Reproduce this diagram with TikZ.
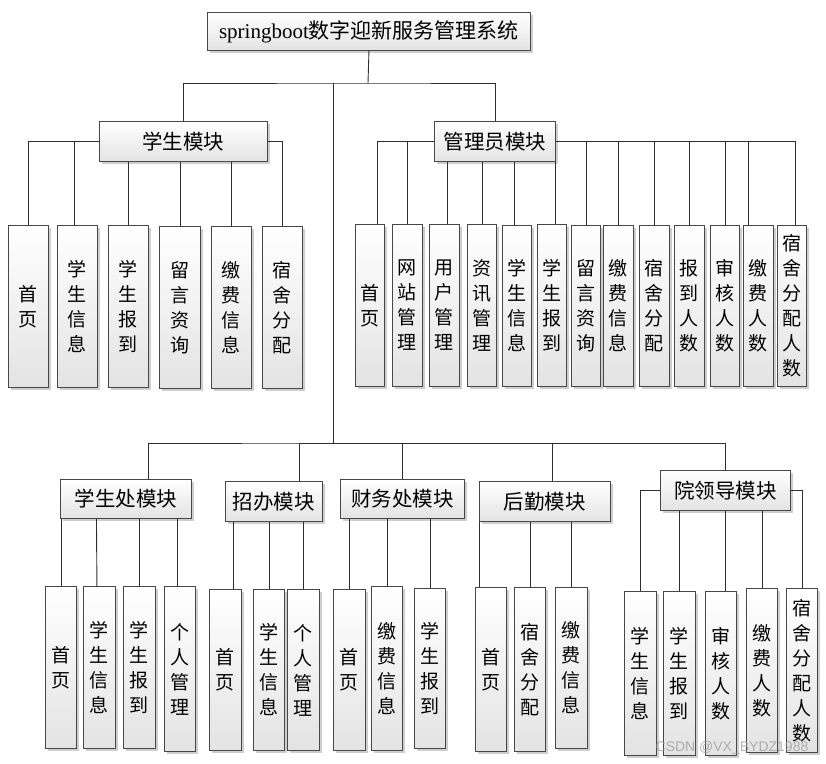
\documentclass[tikz,border=0pt]{standalone}
\usepackage{fontspec}
\setmainfont{Liberation Serif}
\newfontfamily\cjk{Noto Sans CJK SC}
\newfontfamily\wmfont{Liberation Sans}
\usetikzlibrary{shadows}
\tikzset{
  box/.style={draw=black!72, line width=0.9pt, top color=white, bottom color=black!11,
    drop shadow={shadow xshift=3pt, shadow yshift=-3pt, fill=black!35, opacity=0.55},
    inner sep=0pt, anchor=north west},
  leaf/.style={box, font=\cjk\fontsize{19}{25}\selectfont, align=center},
  mod/.style={box, font=\cjk\fontsize{20.5}{24}\selectfont},
  ln/.style={draw=black!82, line width=0.9pt},
}
\newcommand\bx[7]{\node[#1, minimum width={#5-#3}, minimum height={#6-#4}] (#2) at (#3,#4) {#7};}
\begin{document}
\begin{tikzpicture}[x=1pt,y=-1pt]
\useasboundingbox (0,0) rectangle (826,763);
% connectors drawn first
\coordinate (j0) at (333,83);
\coordinate (j1) at (368,83);
\coordinate (j2) at (333,443);
% root
\bx{box,font=\fontsize{21}{24}\selectfont}{root}{207}{12}{530}{50}{springboot{\cjk 数字迎新服务管理系统}}
% modules
\bx{mod}{xs}{99}{121}{267}{161}{学生模块}
\bx{mod}{ad}{434}{121}{555}{161}{管理员模块}
\bx{mod}{xc}{60}{479}{191}{518}{学生处模块}
\bx{mod}{zb}{225}{481}{322}{521}{招办模块}
\bx{mod}{cw}{340}{479}{464}{518}{财务处模块}
\bx{mod}{hq}{479}{481}{610}{521}{后勤模块}
\bx{mod}{yl}{660}{470}{790}{510}{院领导模块}
% student module leaves
\bx{leaf}{xs1}{8}{225}{48}{387}{首\\页}
\bx{leaf}{xs2}{57}{225}{97}{387}{学\\生\\信\\息}
\bx{leaf}{xs3}{108}{225}{148}{387}{学\\生\\报\\到}
\bx{leaf}{xs4}{159}{226}{200}{388}{留\\言\\资\\询}
\bx{leaf}{xs5}{211}{226}{251}{388}{缴\\费\\信\\息}
\bx{leaf}{xs6}{262}{226}{302}{388}{宿\\舍\\分\\配}
% admin leaves
\bx{leaf}{ad1}{355}{224}{384}{386}{首\\页}
\bx{leaf}{ad2}{392}{224}{422}{386}{网\\站\\管\\理}
\bx{leaf}{ad3}{429}{224}{459}{386}{用\\户\\管\\理}
\bx{leaf}{ad4}{467}{224}{496}{386}{资\\讯\\管\\理}
\bx{leaf}{ad5}{502}{225}{531}{386}{学\\生\\信\\息}
\bx{leaf}{ad6}{537}{224}{566}{386}{学\\生\\报\\到}
\bx{leaf}{ad7}{571}{225}{600}{386}{留\\言\\资\\询}
\bx{leaf}{ad8}{603}{225}{633}{386}{缴\\费\\信\\息}
\bx{leaf}{ad9}{639}{225}{669}{386}{宿\\舍\\分\\配}
\bx{leaf}{ad10}{674}{225}{704}{386}{报\\到\\人\\数}
\bx{leaf}{ad11}{710}{225}{739}{386}{审\\核\\人\\数}
\bx{leaf}{ad12}{743}{225}{773}{386}{缴\\费\\人\\数}
\bx{leaf}{ad13}{777}{225}{806}{386}{宿\\舍\\分\\配\\人\\数}
% student office leaves
\bx{leaf}{xc1}{45}{586}{76}{748}{首\\页}
\bx{leaf}{xc2}{83}{586}{115}{748}{学\\生\\信\\息}
\bx{leaf}{xc3}{123}{586}{155}{748}{学\\生\\报\\到}
\bx{leaf}{xc4}{164}{586}{195}{751}{个\\人\\管\\理}
% admissions leaves
\bx{leaf}{zb1}{209}{589}{241}{750}{首\\页}
\bx{leaf}{zb2}{253}{589}{284}{750}{学\\生\\信\\息}
\bx{leaf}{zb3}{287}{589}{319}{750}{个\\人\\管\\理}
% finance leaves
\bx{leaf}{cw1}{333}{589}{365}{750}{首\\页}
\bx{leaf}{cw2}{371}{586}{402}{750}{缴\\费\\信\\息}
\bx{leaf}{cw3}{414}{588}{445}{748}{学\\生\\报\\到}
% logistics leaves
\bx{leaf}{hq1}{475}{587}{506}{751}{首\\页}
\bx{leaf}{hq2}{514}{587}{545}{751}{宿\\舍\\分\\配}
\bx{leaf}{hq3}{555}{587}{587}{748}{缴\\费\\信\\息}
% leadership leaves
\bx{leaf}{yl1}{624}{591}{656}{755}{学\\生\\信\\息}
\bx{leaf}{yl2}{663}{591}{695}{755}{学\\生\\报\\到}
\bx{leaf}{yl3}{705}{591}{736}{755}{审\\核\\人\\数}
\bx{leaf}{yl4}{746}{588}{777}{752}{缴\\费\\人\\数}
\bx{leaf}{yl5}{786}{588}{817}{752}{宿\\舍\\分\\配\\人\\数}
% ---- connectors ----
\draw[ln] (root.south) -- (j1);
\draw[ln] (xs.north) |- (j1) -| (ad.north);
\draw[ln] (j0) -- (j2);
\draw[ln] ([xshift=22.5]xc.north) |- (j2) -| (yl.north);
\draw[ln] ([xshift=25.5]zb.north) |- (j2);
\draw[ln] (cw.north) |- (j2);
\draw[ln] ([xshift=7.5]hq.north) |- (j2);
% student module
\draw[ln] (xs.west) -| (xs1.north);
\draw[ln] ([xshift=-3]xs2.north) |- (xs.west);
\foreach \n in {xs3,xs4,xs5} \draw[ln] (\n.north) -- (\n.north |- xs.south);
\draw[ln] (xs.east) -| (xs6.north);
% admin module
\draw[ln] (ad.west) -| ([xshift=7.5]ad1.north);
\draw[ln] (ad2.north) |- (ad.west);
\draw[ln] ([xshift=3]ad3.north) -- ([xshift=3]ad3.north |- ad.south);
\draw[ln] (ad4.north) -- (ad4.north |- ad.south);
\draw[ln] ([xshift=-2.5]ad5.north) -- ([xshift=-2.5]ad5.north |- ad.south);
\draw[ln] ([xshift=3.5]ad6.north) -- ([xshift=3.5]ad6.north |- ad.south);
\foreach \n in {ad7,ad8,ad9,ad10,ad11} \draw[ln] (\n.north) |- (ad.east);
\draw[ln] ([xshift=-10]ad12.north) |- (ad.east);
\draw[ln] (ad.east) -| ([xshift=3.5]ad13.north);
% student office
\draw[ln] (xc1.north) -- (xc1.north |- xc.south);
\draw[ln] ([xshift=-2.5]xc2.north) -- ([xshift=-3]xc2.north |- xc.south);
\draw[ln] (xc3.north) -- (xc3.north |- xc.south);
\draw[ln] ([xshift=-2.5]xc4.north) -- ([xshift=-2.5]xc4.north |- xc.south);
% admissions
\draw[ln] ([xshift=8]zb1.north) -- ([xshift=8]zb1.north |- zb.south);
\foreach \n in {zb2,zb3} \draw[ln] (\n.north) -- (\n.north |- zb.south);
% finance
\foreach \n in {cw1,cw2,cw3} \draw[ln] (\n.north) -- (\n.north |- cw.south);
% logistics
\draw[ln] ([xshift=-11.5]hq1.north) -- ([xshift=-11.5]hq1.north |- hq.south);
\foreach \n in {hq2,hq3} \draw[ln] (\n.north) -- (\n.north |- hq.south);
% leadership
\draw[ln] (yl.west) -| (yl1.north);
\foreach \n in {yl2,yl4} \draw[ln] (\n.north) -- (\n.north |- yl.south);
\draw[ln] ([xshift=4.5]yl3.north) -- ([xshift=4.5]yl3.north |- yl.south);
\draw[ln] (yl.east) -| (yl5.north);
% watermark
\node[font=\wmfont\fontsize{14}{14}\selectfont, text=black!40, opacity=0.75] (wm) at (732,748) {CSDN @VX\_BYDZ1988};
\end{tikzpicture}
\end{document}
